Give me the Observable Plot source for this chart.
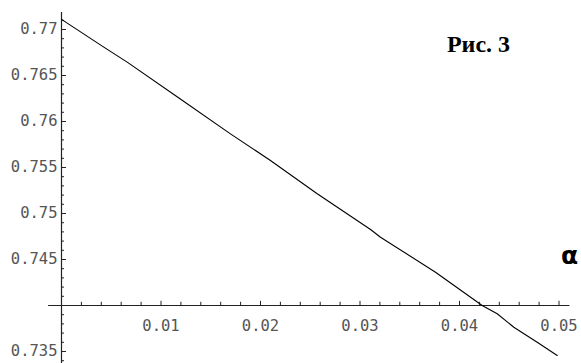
<!DOCTYPE html>
<html>
<head>
<meta charset="utf-8">
<script src="https://cdn.jsdelivr.net/npm/d3@7"></script>
<script src="https://cdn.jsdelivr.net/npm/@observablehq/plot@0.6"></script>
<style>
  html, body { margin: 0; padding: 0; background: #fff; }
  #chart svg { display: block; }
</style>
</head>
<body>
<div id="chart"></div>
<script>
// Data
const alpha = [0, 0.00425, 0.0066, 0.0118, 0.01698, 0.021, 0.0257, 0.03106, 0.03206, 0.03759, 0.04228, 0.04379, 0.04546, 0.04781, 0.04982];
const value = [0.7711, 0.76808, 0.76645, 0.76255, 0.75866, 0.75576, 0.75214, 0.74826, 0.74742, 0.74362, 0.74, 0.7391, 0.73764, 0.73601, 0.73457];

const xTickValues = [0.01, 0.02, 0.03, 0.04, 0.05];
const xTickLabels = ["0.01", "0.02", "0.03", "0.04", "0.05"];
const yTickValues = [0.735, 0.745, 0.75, 0.755, 0.76, 0.765, 0.77];
const yTickLabels = ["0.735", "0.745", "0.75", "0.755", "0.76", "0.765", "0.77"];
const xMinorValues = d3.range(0.002, 0.0501, 0.002).filter(v => Math.abs(v / 0.01 - Math.round(v / 0.01)) > 1e-6);
const yMinorValues = d3.range(0.734, 0.7715, 0.001).filter(v => Math.abs(v / 0.005 - Math.round(v / 0.005)) > 1e-6);

const title = "Рис. 3";
const axisLabel = "α";

// axis crossing and extents
const xCross = 0, yCross = 0.74;
const xAxisExtent = [-0.0013, 0.0511];
const yAxisExtent = [0.7337, 0.77185];

const data = alpha.map((a, i) => ({a, v: value[i]}));

const tickFont = "'DejaVu Sans Mono', 'Liberation Mono', monospace";

const chart = Plot.plot({
  width: 581,
  height: 363,
  margin: 0,
  style: {background: "#fff", overflow: "visible"},
  x: {domain: [0, 0.05], range: [61, 558.5], axis: null},
  y: {domain: [0.735, 0.77], range: [351, 29], axis: null},
  marks: [
    // axes lines
    Plot.ruleY([yCross], {x1: xAxisExtent[0], x2: xAxisExtent[1], stroke: "#222", strokeWidth: 1.2}),
    Plot.ruleX([xCross], {y1: yAxisExtent[0], y2: yAxisExtent[1], stroke: "#222", strokeWidth: 1.2}),
    // y ticks (pointing right)
    Plot.ruleY(yTickValues, {x1: 0, x2: 0.0005, stroke: "#222", strokeWidth: 1}),
    Plot.ruleY(yMinorValues, {x1: 0, x2: 0.0003, stroke: "#222", strokeWidth: 1}),
    // x ticks (pointing up)
    Plot.ruleX(xTickValues, {y1: yCross, y2: yCross + 0.00045, stroke: "#222", strokeWidth: 1}),
    Plot.ruleX(xMinorValues, {y1: yCross, y2: yCross + 0.00035, stroke: "#222", strokeWidth: 1}),
    // tick labels
    Plot.text(yTickValues, {x: xCross, y: d => d, text: (d, i) => yTickLabels[i], textAnchor: "end", dx: -4, fontSize: 15.5, fontFamily: tickFont, fill: "#555"}),
    Plot.text(xTickValues, {x: d => d, y: yCross, text: (d, i) => xTickLabels[i], dy: 21, fontSize: 15.5, fontFamily: tickFont, fill: "#555"}),
    // curve
    Plot.line(data, {x: "a", y: "v", stroke: "#000", strokeWidth: 1.1}),
    // annotations
    Plot.text([title], {frameAnchor: "top-left", dx: 478, dy: 44, textAnchor: "middle", lineAnchor: "middle", fontSize: 24, fontWeight: "bold", fontFamily: "'Liberation Serif', 'Times New Roman', serif", fill: "#000"}),
    Plot.text([axisLabel], {frameAnchor: "top-left", dx: 569, dy: 255, textAnchor: "middle", lineAnchor: "middle", fontSize: 25, fontWeight: "bold", fontFamily: "'DejaVu Sans', sans-serif", fill: "#000"})
  ]
});
document.getElementById("chart").appendChild(chart);
</script>
</body>
</html>
